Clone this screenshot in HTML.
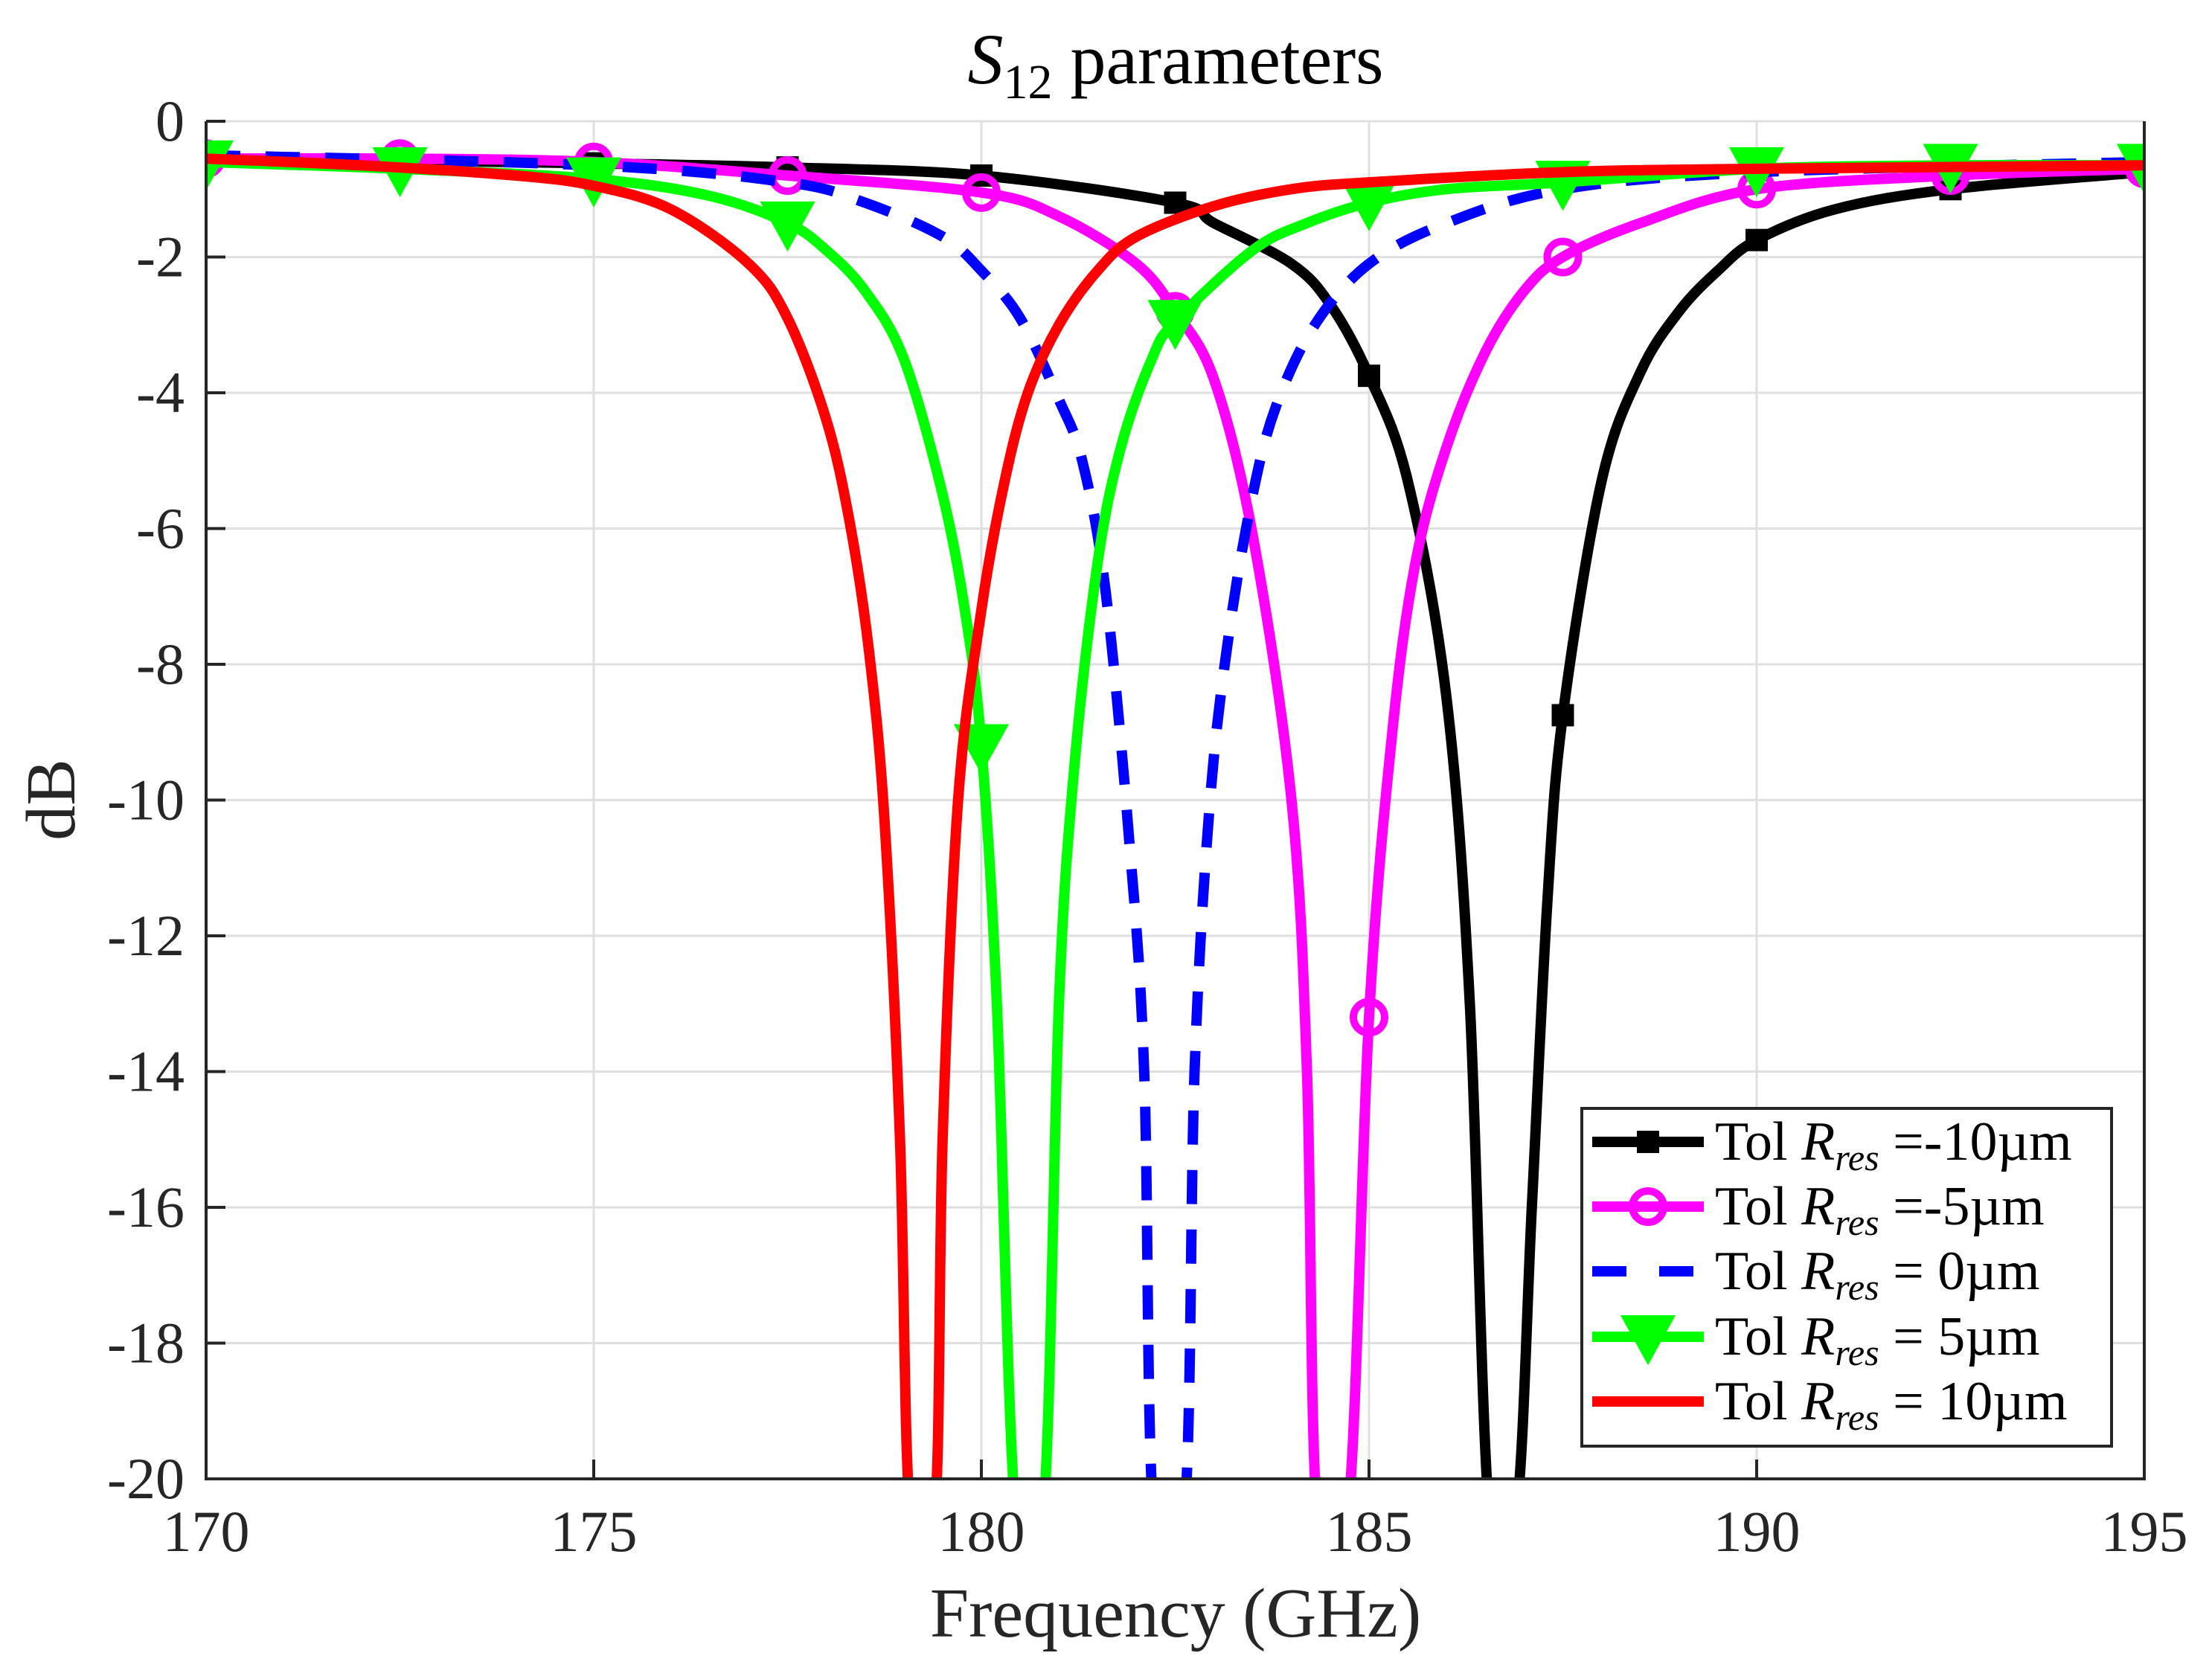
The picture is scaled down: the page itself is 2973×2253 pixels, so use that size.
<!DOCTYPE html>
<html><head><meta charset="utf-8"><style>
html,body{margin:0;padding:0;background:#fff;}
svg{display:block;font-family:"Liberation Serif",serif;}
</style></head><body>
<svg id="chart" width="2973" height="2253" viewBox="0 0 2973 2253" xmlns="http://www.w3.org/2000/svg">
<defs><clipPath id="plotclip"><rect x="277" y="163" width="2605" height="1825"/></clipPath></defs>
<rect x="0" y="0" width="2973" height="2253" fill="#fff"/>
<g id="grid"></g>
<g id="series" clip-path="url(#plotclip)"></g>
<g id="axes"></g>
<text x="1580" y="112" font-size="96" text-anchor="middle" fill="#000"><tspan font-style="italic">S</tspan><tspan font-size="66" dy="20">12</tspan><tspan dy="-20"> parameters</tspan></text>
<text x="1580" y="2200" font-size="94" text-anchor="middle" fill="#262626">Frequency (GHz)</text>
<text x="0" y="0" font-size="94" text-anchor="middle" fill="#262626" transform="translate(100,1075) rotate(-90)">dB</text>
<g id="legend"></g>
</svg>
<script>
const xTicks=[170,175,180,185,190,195];
const yTicks=[0,-2,-4,-6,-8,-10,-12,-14,-16,-18,-20];
const legendValues=["=-10µm","=-5µm","= 0µm","= 5µm","= 10µm"];
const fBlack=[170,172.5,175,177.5,180,182.5,183,184,184.5,185,185.5,186,186.3,186.55,186.9,187.1,187.3,187.5,188,188.5,189,189.5,190,191,192.5,195];
const dBlack=[-0.55,-0.58,-0.62,-0.68,-0.8,-1.2,-1.5,-2.1,-2.7,-3.75,-5.3,-8.5,-13,-20.5,-20.5,-16,-11.5,-8.75,-5.3,-3.7,-2.8,-2.2,-1.75,-1.3,-1.0,-0.75];
const mBlackF=[170,172.5,175,177.5,180,182.5,185,187.5,190,192.5,195];
const fMag=[170,172.5,175,177.5,180,181,182,182.5,183,183.5,184,184.2,184.33,184.73,185,185.3,185.6,186,186.5,187,187.5,188.5,190,192.5,195];
const dMag=[-0.55,-0.55,-0.6,-0.8,-1.05,-1.4,-2.1,-2.8,-3.8,-6.1,-10,-14,-20.5,-20.5,-13.2,-9,-6.5,-4.8,-3.4,-2.5,-2.0,-1.5,-1.0,-0.8,-0.7];
const mMagF=[170,172.5,175,177.5,180,182.5,185,187.5,190,192.5,195];
const fBlue=[170,175,177.5,178.5,179.5,180,180.5,181,181.3,181.6,181.9,182.1,182.22,182.62,182.75,182.95,183.2,183.5,183.8,184.3,185,186,187.5,190,195];
const dBlue=[-0.5,-0.65,-0.9,-1.2,-1.7,-2.2,-2.9,-4.1,-5,-6.9,-10.5,-14,-20.5,-20.5,-14,-10,-7.5,-5.5,-4.2,-3.0,-2.1,-1.5,-1.0,-0.75,-0.6];
const fGreen=[170,172.5,175,176.5,177.5,178,178.5,179,179.5,179.8,180,180.2,180.44,180.8,181,181.2,181.5,181.8,182.2,182.5,183.5,184.2,185,186,187.5,190,192.5,195];
const dGreen=[-0.6,-0.7,-0.85,-1.1,-1.5,-1.9,-2.5,-3.5,-5.5,-7.3,-9.2,-13,-20.5,-20.5,-13,-9.5,-6.5,-4.8,-3.5,-2.95,-1.9,-1.5,-1.2,-1.0,-0.9,-0.7,-0.65,-0.65];
const mGreenF=[170,172.5,175,177.5,180,182.5,185,187.5,190,192.5,195];
const fRed=[170,172,174,175,176,177,177.5,178,178.3,178.55,178.75,178.95,179.08,179.4,179.5,179.7,180,180.3,180.6,181,181.5,182,183,184,185,187.5,190,195];
const dRed=[-0.55,-0.65,-0.8,-0.95,-1.3,-2.1,-2.9,-4.4,-5.9,-7.8,-10.3,-15,-20.5,-20.5,-15,-10,-7.2,-5.3,-4.0,-3.0,-2.2,-1.7,-1.25,-1.0,-0.9,-0.75,-0.7,-0.65];

const NS="http://www.w3.org/2000/svg";
const L=277,R=2882,T=163,B=1988;
function xs(f){return L+(f-170)/(195-170)*(R-L);}
function ys(d){return T+(0-d)/(20)*(B-T);}
function interp(fa,da,f){for(let i=0;i<fa.length-1;i++){if(f>=fa[i]&&f<=fa[i+1]){const t=(f-fa[i])/(fa[i+1]-fa[i]);return da[i]+t*(da[i+1]-da[i]);}}return da[da.length-1];}
function mk(tag,attrs,parent){const e=document.createElementNS(NS,tag);for(const k in attrs)e.setAttribute(k,attrs[k]);parent.appendChild(e);return e;}
function smoothPath(P){
  let d=`M${P[0][0].toFixed(1)},${P[0][1].toFixed(1)}`;
  for(let i=0;i<P.length-1;i++){
    const p0=P[Math.max(0,i-1)],p1=P[i],p2=P[i+1],p3=P[Math.min(P.length-1,i+2)];
    const k=1/6;
    let c1x=p1[0]+(p2[0]-p0[0])*k,c1y=p1[1]+(p2[1]-p0[1])*k;
    let c2x=p2[0]-(p3[0]-p1[0])*k,c2y=p2[1]-(p3[1]-p1[1])*k;
    d+=`C${c1x.toFixed(1)},${c1y.toFixed(1)} ${c2x.toFixed(1)},${c2y.toFixed(1)} ${p2[0].toFixed(1)},${p2[1].toFixed(1)}`;
  }
  return d;
}
const grid=document.getElementById('grid'),axes=document.getElementById('axes'),ser=document.getElementById('series'),leg=document.getElementById('legend');
xTicks.forEach(v=>{
  const g=mk('line',{x1:xs(v),x2:xs(v),y1:T,y2:B,stroke:'#dfdfdf','stroke-width':3},grid);
  
  
  const t=mk('line',{x1:xs(v),x2:xs(v),y1:B,y2:B-26,stroke:'#262626','stroke-width':4},axes);
  
  
  const lb=mk('text',{x:xs(v),y:2085,'font-size':78,'text-anchor':'middle',fill:'#262626'},axes);
  lb.textContent=v;
  
  
});
yTicks.forEach(v=>{
  const g=mk('line',{x1:L,x2:R,y1:ys(v),y2:ys(v),stroke:'#dfdfdf','stroke-width':3},grid);
  
  
  const t=mk('line',{x1:L,x2:L+26,y1:ys(v),y2:ys(v),stroke:'#262626','stroke-width':4},axes);
  
  
  const lb=mk('text',{x:248,y:ys(v)+26,'font-size':78,'text-anchor':'end',fill:'#262626'},axes);
  lb.textContent=v;
  
  
});
const box=mk('path',{d:`M${L},${T}L${L},${B}L${R},${B}L${R},${T}`,fill:'none',stroke:'#262626','stroke-width':4},axes);



function marker(type,x,y,color,parent){
  let e;
  if(type==='square'){e=mk('rect',{x:x-15,y:y-15,width:30,height:30,fill:color},parent);}
  else if(type==='circle'){e=mk('circle',{cx:x,cy:y,r:21,fill:'none',stroke:color,'stroke-width':10},parent);}
  else{e=mk('path',{d:`M${x-32},${y-26}L${x+32},${y-26}L${x},${y+32}Z`,fill:color,stroke:color,'stroke-width':6,'stroke-linejoin':'miter'},parent);}
  return e;
}
const S=[
 {f:fBlack,d:dBlack,c:'#000000',m:'square',mf:mBlackF,dash:null,name:'series-minus-10um'},
 {f:fMag,d:dMag,c:'#ff00ff',m:'circle',mf:mMagF,dash:null,name:'series-minus-5um'},
 {f:fBlue,d:dBlue,c:'#0000ff',m:null,mf:[],dash:'46 34',name:'series-0um'},
 {f:fGreen,d:dGreen,c:'#00ff00',m:'tri',mf:mGreenF,dash:null,name:'series-5um'},
 {f:fRed,d:dRed,c:'#ff0000',m:null,mf:[],dash:null,name:'series-10um'}
];
S.forEach(s=>{
  const g=mk('g',{},ser);
  
  
  const P=s.f.map((f,i)=>[xs(f),ys(s.d[i])]);
  const a={d:smoothPath(P),fill:'none',stroke:s.c,'stroke-width':14,'stroke-linejoin':'round'};
  if(s.dash)a['stroke-dasharray']=s.dash;
  const pl=mk('path',a,g);
  
  
  s.mf.forEach(f=>{
    const e=marker(s.m,xs(f),ys(interp(s.f,s.d,f)),s.c,g);
    
    
  });
});
const lb=mk('rect',{x:2126,y:1490,width:712,height:454,fill:'#fff',stroke:'#262626','stroke-width':4},leg);


const rowY=[1535,1622,1709,1797,1884];
S.forEach((s,i)=>{
  const g=mk('g',{},leg);
  
  
  const a={x1:2140,x2:2290,y1:rowY[i],y2:rowY[i],stroke:s.c,'stroke-width':14};
  if(s.dash)a['stroke-dasharray']='46 44';
  mk('line',a,g);
  if(s.m)marker(s.m,2215,rowY[i],s.c,g);
  const t=mk('text',{x:2305,y:rowY[i]+24,'font-size':74,fill:'#000'},g);
  t.innerHTML='Tol <tspan font-style="italic">R</tspan><tspan font-style="italic" font-size="50" dy="14">res</tspan><tspan dy="-14"> '+legendValues[i]+'</tspan>';
});
</script>
</body></html>
